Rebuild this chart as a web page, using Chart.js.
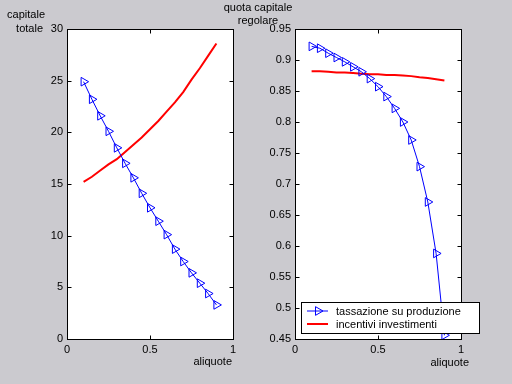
<!DOCTYPE html>
<html>
<head>
<meta charset="utf-8">
<script src="https://cdn.jsdelivr.net/npm/chart.js@4/dist/chart.umd.min.js"></script>
<style>
html, body { margin: 0; padding: 0; background: #cbcacf; overflow: hidden; }
canvas { position: absolute; left: 0; top: 0; }
</style>
</head>
<body>
<canvas id="left" width="512" height="384"></canvas>
<canvas id="right" width="512" height="384"></canvas>
<script>
const aliquote = [0.1, 0.15, 0.2, 0.25, 0.3, 0.35, 0.4, 0.45, 0.5, 0.55, 0.6, 0.65, 0.7, 0.75, 0.8, 0.85, 0.9];

// capitale totale
const capitaleTassazione = [24.9, 23.2, 21.6, 20.1, 18.5, 17.0, 15.6, 14.1, 12.7, 11.4, 10.1, 8.7, 7.5, 6.4, 5.4, 4.4, 3.3];
const capitaleIncentivi = [15.2, 15.7, 16.3, 16.9, 17.4, 18.1, 18.8, 19.5, 20.3, 21.1, 22.0, 22.9, 23.9, 25.1, 26.2, 27.4, 28.6];

// quota capitale regolare
const quotaTassazione = [0.922, 0.919, 0.911, 0.904, 0.897, 0.889, 0.881, 0.870, 0.857, 0.841, 0.822, 0.800, 0.771, 0.728, 0.671, 0.588, 0.456];
const quotaIncentivi = [0.882, 0.882, 0.881, 0.880, 0.880, 0.879, 0.878, 0.877, 0.877, 0.876, 0.876, 0.875, 0.874, 0.872, 0.871, 0.869, 0.867];

const seriesNames = ["tassazione su produzione", "incentivi investimenti"];

const xTicks = [0, 0.5, 1];
const xTickLabels = ["0", "0.5", "1"];
const yTicksLeft = [0, 5, 10, 15, 20, 25, 30];
const yTickLabelsLeft = ["0", "5", "10", "15", "20", "25", "30"];
const yTicksRight = [0.45, 0.5, 0.55, 0.6, 0.65, 0.7, 0.75, 0.8, 0.85, 0.9, 0.95];
const yTickLabelsRight = ["0.45", "0.5", "0.55", "0.6", "0.65", "0.7", "0.75", "0.8", "0.85", "0.9", "0.95"];

const FONT = "11px 'Liberation Sans', Arial, sans-serif";
Chart.defaults.color = "#000";
Chart.defaults.font.family = "'Liberation Sans', Arial, sans-serif";
Chart.defaults.font.size = 11;

function triangleRight(ctx, x, y, r) {
    ctx.beginPath();
    ctx.moveTo(x + r, y);
    ctx.lineTo(x - r / 2, y - r * 0.866);
    ctx.lineTo(x - r / 2, y + r * 0.866);
    ctx.closePath();
    ctx.stroke();
}

// white axes box, inward ticks on all four sides, free texts and legend
const matlabAxes = {
    id: "matlabAxes",
    beforeDraw(chart) {
        const a = chart.chartArea, ctx = chart.ctx;
        ctx.save();
        ctx.fillStyle = "#fff";
        ctx.fillRect(a.left, a.top, a.right - a.left, a.bottom - a.top);
        ctx.restore();
    },
    afterDraw(chart, args, opts) {
        const { ctx, chartArea: a, scales } = chart;
        const L = Math.round(a.left) + 0.5, R = Math.round(a.right) + 0.5;
        const T = Math.round(a.top) + 0.5, B = Math.round(a.bottom) + 0.5;
        ctx.save();
        ctx.strokeStyle = "#000";
        ctx.lineWidth = 1;
        ctx.strokeRect(L, T, R - L, B - T);
        ctx.beginPath();
        scales.x.ticks.forEach(t => {
            const px = Math.round(scales.x.getPixelForValue(t.value)) + 0.5;
            ctx.moveTo(px, B); ctx.lineTo(px, B - 4);
            ctx.moveTo(px, T); ctx.lineTo(px, T + 4);
        });
        scales.y.ticks.forEach(t => {
            const py = Math.round(scales.y.getPixelForValue(t.value)) + 0.5;
            ctx.moveTo(L, py); ctx.lineTo(L + 4, py);
            ctx.moveTo(R, py); ctx.lineTo(R - 4, py);
        });
        ctx.stroke();

        ctx.font = FONT;
        ctx.fillStyle = "#000";
        ctx.textBaseline = "middle";
        (opts.texts || []).forEach(t => {
            ctx.textAlign = t.align || "left";
            ctx.fillText(t.text, t.x, t.y);
        });

        const lg = opts.legend;
        if (lg) {
            ctx.fillStyle = "#fff";
            ctx.fillRect(lg.x, lg.y, lg.w, lg.h);
            ctx.strokeStyle = "#000";
            ctx.strokeRect(lg.x + 0.5, lg.y + 0.5, lg.w, lg.h);
            chart.data.datasets.forEach((ds, i) => {
                const cy = lg.y + 9 + i * 13;
                ctx.strokeStyle = ds.borderColor;
                ctx.lineWidth = ds.borderWidth;
                ctx.beginPath();
                ctx.moveTo(lg.x + 6, cy);
                ctx.lineTo(lg.x + 27, cy);
                ctx.stroke();
                if (ds.pointRadius > 0) {
                    ctx.lineWidth = 1;
                    triangleRight(ctx, lg.x + 17, cy, ds.pointRadius);
                }
                ctx.fillStyle = "#000";
                ctx.textAlign = "left";
                ctx.fillText(ds.label, lg.x + 35, cy + 1);
            });
        }
        ctx.restore();
    }
};

function makeScales(yWidth, yMin, yMax, yTicks, yLabels) {
    return {
        x: {
            type: "linear", min: 0, max: 1,
            grid: { display: false, drawTicks: false },
            border: { display: false },
            afterBuildTicks: s => { s.ticks = xTicks.map(v => ({ value: v })); },
            ticks: { padding: 4, maxRotation: 0, callback: (v) => xTickLabels[xTicks.indexOf(v)] },
            afterFit: s => { s.height = 45; }
        },
        y: {
            type: "linear", min: yMin, max: yMax,
            grid: { display: false, drawTicks: false },
            border: { display: false },
            afterBuildTicks: s => { s.ticks = yTicks.map(v => ({ value: v })); },
            ticks: { padding: 4, callback: (v) => yLabels[yTicks.indexOf(v)] },
            afterFit: s => { s.width = yWidth; }
        }
    };
}

function makeDatasets(blue, red) {
    return [
        {
            label: seriesNames[0],
            data: aliquote.map((x, i) => ({ x: x, y: blue[i] })),
            borderColor: "#0000ff",
            borderWidth: 1,
            pointStyle: "triangle",
            rotation: 90,
            pointRadius: 5,
            pointBorderWidth: 1,
            pointBorderColor: "#0000ff",
            pointBackgroundColor: "rgba(0,0,0,0)",
            tension: 0
        },
        {
            label: seriesNames[1],
            data: aliquote.map((x, i) => ({ x: x, y: red[i] })),
            borderColor: "#ff0000",
            borderWidth: 2,
            pointRadius: 0,
            tension: 0
        }
    ];
}

new Chart(document.getElementById("left"), {
    type: "line",
    data: { datasets: makeDatasets(capitaleTassazione, capitaleIncentivi) },
    options: {
        responsive: false,
        animation: false,
        devicePixelRatio: 1,
        layout: { padding: { left: 0, top: 29, right: 279, bottom: 0 } },
        scales: makeScales(67, 0, 30, yTicksLeft, yTickLabelsLeft),
        plugins: {
            legend: { display: false },
            tooltip: { enabled: false },
            matlabAxes: {
                texts: [
                    { text: "capitale", x: 45, y: 15, align: "right" },
                    { text: "totale", x: 43, y: 29, align: "right" },
                    { text: "aliquote", x: 232, y: 362, align: "right" }
                ]
            }
        }
    },
    plugins: [matlabAxes]
});

new Chart(document.getElementById("right"), {
    type: "line",
    data: { datasets: makeDatasets(quotaTassazione, quotaIncentivi) },
    options: {
        responsive: false,
        animation: false,
        devicePixelRatio: 1,
        layout: { padding: { left: 256, top: 29, right: 51, bottom: 0 } },
        scales: makeScales(39, 0.45, 0.95, yTicksRight, yTickLabelsRight),
        plugins: {
            legend: { display: false },
            tooltip: { enabled: false },
            matlabAxes: {
                texts: [
                    { text: "quota capitale", x: 258, y: 8, align: "center" },
                    { text: "regolare", x: 258, y: 21, align: "center" },
                    { text: "aliquote", x: 469, y: 363, align: "right" }
                ],
                legend: { x: 301, y: 302, w: 178, h: 31 }
            }
        }
    },
    plugins: [matlabAxes]
});
</script>
</body>
</html>
